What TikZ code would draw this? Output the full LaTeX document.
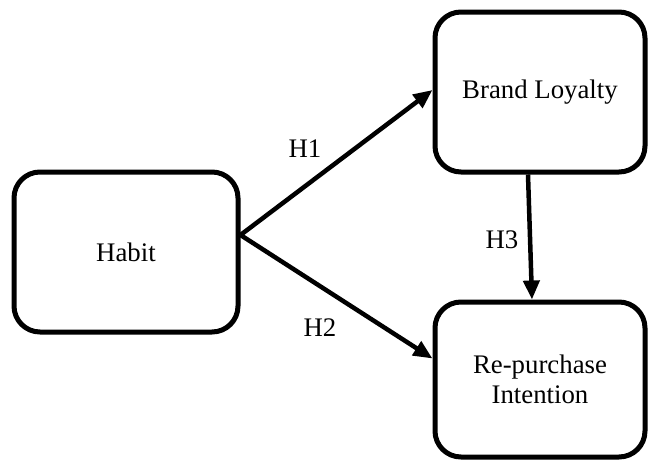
\documentclass[tikz,border=0pt]{standalone}
\usepackage{fontspec}
\setmainfont{Liberation Serif}
\usetikzlibrary{arrows.meta,calc,shadows}
\begin{document}
\begin{tikzpicture}[x=1pt,y=-1pt,
  box/.style={draw=black, line width=5pt, rounded corners=26pt, fill=white,
    align=center, inner sep=0pt,
    drop shadow={opacity=0.25, shadow xshift=2pt, shadow yshift=-2pt},
    font=\fontsize{26.8}{30}\selectfont},
  link/.style={line width=4.5pt, -{Triangle[length=19pt,width=16pt]}},
  lbl/.style={font=\fontsize{26.8}{30}\selectfont, inner sep=0pt}]
\useasboundingbox (0,0) rectangle (649,461);
\node[box, minimum width=224pt, minimum height=160pt] (habit) at (126,252) {Habit};
\node[box, minimum width=210pt, minimum height=160pt] (bl) at (540,92) {Brand Loyalty};
\node[box, minimum width=210pt, minimum height=155pt] (rp) at (540,379.5) {Re-purchase\\Intention};
\coordinate (hs) at ($(habit.east)+(0,-17)$);
\draw[link] (hs) -- ($(bl.west)+(0,-2)$);
\draw[link] (hs) -- ($(rp.west)+(0,-21)$);
\draw[link] ($(bl.south)+(-12,0)$) -- ($(rp.north)+(-8,0)$);
\node[lbl] (h1) at (305,149) {H1};
\node[lbl] (h2) at (320,328) {H2};
\node[lbl] (h3) at (502,240) {H3};
\end{tikzpicture}
\end{document}
